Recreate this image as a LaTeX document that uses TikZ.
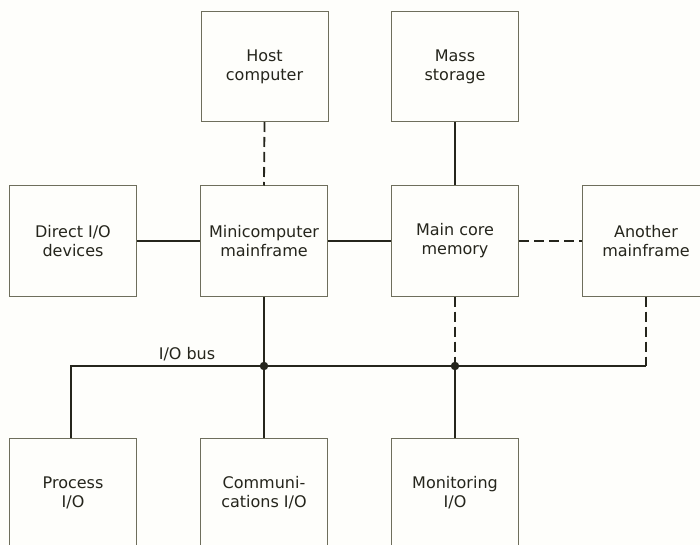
\documentclass[tikz,border=0pt]{standalone}
\usepackage{fontspec}
\setmainfont{DejaVu Sans}
\definecolor{ink}{HTML}{25251C}
\definecolor{frame}{HTML}{6E6E5C}
\definecolor{paper}{HTML}{FEFEFB}
\tikzset{
  unit/.style={draw=frame, line width=1pt, fill=paper, minimum width=127pt, minimum height=110pt,
               align=center, text=ink, font=\fontsize{16}{19}\selectfont, inner sep=0pt},
  link/.style={draw=ink, line width=1.8pt, line join=miter},
  optlink/.style={link, dash pattern=on 10pt off 5pt},
  tap/.style={circle, fill=ink, inner sep=0pt, minimum size=8.5pt}
}
\begin{document}
\begin{tikzpicture}[x=1pt,y=-1pt]
\useasboundingbox (0,0) rectangle (700,545);
\clip (0,0) rectangle (700,545);
\fill[paper] (0,0) rectangle (700,545);

% bus junction points
\coordinate (j1) at (264,366);
\coordinate (j2) at (455,366);
\coordinate (jend) at (646,366);
\coordinate (pbus) at (71,366);

% boxes
\node[unit] (host)    at (264.5,66.5) {Host\\computer};
\node[unit] (mass)    at (455,66.5)   {Mass\\storage};
\node[unit] (direct)  at (73,241)     {Direct I/O\\devices};
\node[unit] (mini)    at (264,241)    {Minicomputer\\mainframe};
\node[unit] (core)    at (455,241)    {Main core\\memory};
\node[unit] (another) at (646,241)    {Another\\mainframe};
\node[unit] (process) at (73,493)     {Process\\I/O};
\node[unit] (comm)    at (264,493)    {Communi-\\cations I/O};
\node[unit] (monitor) at (455,493)    {Monitoring\\I/O};

% links between units
\draw[optlink] (host.south) -- (mini.north);
\draw[link] (mass.south) -- (core.north);
\draw[link] (direct.east) -- (mini.west);
\draw[link] (mini.east) -- (core.west);
\draw[optlink] (core.east) -- (another.west);

% I/O bus
\draw[link] (process.north -| pbus) -- (pbus) -- (j1) -- (j2) -- (jend);
\draw[optlink] (another.south) -- (jend);
\draw[link] (mini.south) -- (j1) -- (comm.north);
\draw[optlink] (core.south) -- (j2);
\draw[link] (j2) -- (monitor.north);
\node[tap] (t1) at (j1) {};
\node[tap] (t2) at (j2) {};
\node[text=ink, font=\fontsize{16}{19}\selectfont] (buslabel) at (187,354) {I/O bus};
\end{tikzpicture}
\end{document}
